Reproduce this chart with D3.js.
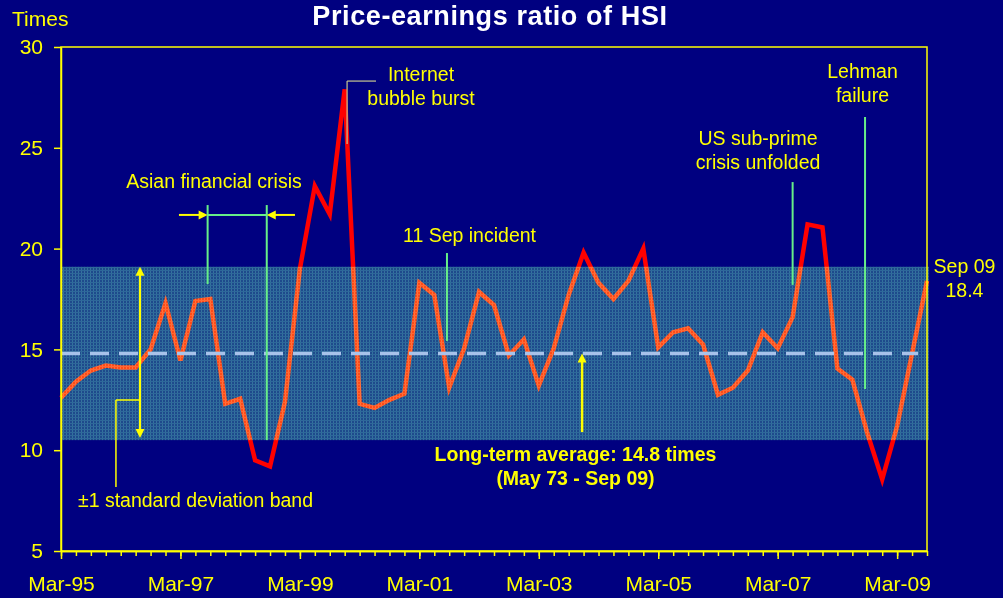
<!DOCTYPE html>
<html>
<head>
<meta charset="utf-8">
<script src="https://cdn.jsdelivr.net/npm/d3@7"></script>
<style>
  html, body { margin: 0; padding: 0; background: #000080; }
  svg { display: block; }
  text { font-family: "Liberation Sans", Arial, sans-serif; }
</style>
</head>
<body>
<script>
// ---------- data ----------
const quarters = [
  "Mar-95","Jun-95","Sep-95","Dec-95","Mar-96","Jun-96","Sep-96","Dec-96",
  "Mar-97","Jun-97","Sep-97","Dec-97","Mar-98","Jun-98","Sep-98","Dec-98",
  "Mar-99","Jun-99","Sep-99","Dec-99","Mar-00","Jun-00","Sep-00","Dec-00",
  "Mar-01","Jun-01","Sep-01","Dec-01","Mar-02","Jun-02","Sep-02","Dec-02",
  "Mar-03","Jun-03","Sep-03","Dec-03","Mar-04","Jun-04","Sep-04","Dec-04",
  "Mar-05","Jun-05","Sep-05","Dec-05","Mar-06","Jun-06","Sep-06","Dec-06",
  "Mar-07","Jun-07","Sep-07","Dec-07","Mar-08","Jun-08","Sep-08","Dec-08",
  "Mar-09","Jun-09","Sep-09"
];
const peRatio = [
  12.6, 13.4, 13.95, 14.2, 14.1, 14.1, 15.0, 17.3,
  14.45, 17.4, 17.5, 12.3, 12.55, 9.5, 9.2, 12.4,
  19.0, 23.1, 21.7, 27.9, 12.3, 12.1, 12.5, 12.8,
  18.3, 17.7, 13.1, 15.05, 17.85, 17.2, 14.7, 15.5,
  13.2, 15.05, 17.7, 19.8, 18.3, 17.5, 18.4, 20.0,
  15.1, 15.85, 16.05, 15.25, 12.75, 13.1, 13.95, 15.85,
  15.05, 16.6, 21.2, 21.05, 14.05, 13.5, 10.85, 8.55,
  11.2, 14.8, 18.4
];
const xTickLabels = ["Mar-95","Mar-97","Mar-99","Mar-01","Mar-03","Mar-05","Mar-07","Mar-09"];
const yTicks = [5, 10, 15, 20, 25, 30];
const longTermAverage = 14.8;
const bandLow = 10.5;
const bandHigh = 19.1;

// ---------- layout ----------
const W = 1003, H = 598;
const pL = 61, pR = 927, pT = 47, pB = 551;
const YELLOW = "#ffff00", GREEN = "#66ee88";

const svg = d3.select("body").append("svg").attr("width", W).attr("height", H);
svg.append("rect").attr("width", W).attr("height", H).attr("fill", "#000080");

const x = d3.scalePoint().domain(quarters).range([pL, pR]);
const xi = d3.scaleLinear().domain([0, quarters.length - 1]).range([pL, pR]); // fractional quarter positions
const y = d3.scaleLinear().domain([5, 30]).range([pB, pT]);

// band pattern
const defs = svg.append("defs");
const pat = defs.append("pattern").attr("id", "grid").attr("patternUnits", "userSpaceOnUse")
  .attr("width", 3).attr("height", 3);
pat.append("rect").attr("width", 3).attr("height", 3).attr("fill", "rgb(30,74,24)");
pat.append("rect").attr("width", 1).attr("height", 3).attr("fill", "rgb(52,115,58)");
pat.append("rect").attr("width", 3).attr("height", 1).attr("fill", "rgb(46,104,52)");

// line
const line = d3.line().x((d, i) => x(quarters[i])).y(d => y(d));
svg.append("path").datum(peRatio).attr("d", line)
  .attr("fill", "none").attr("stroke", "#ff0000").attr("stroke-width", 4.5);

// band (screen-blended on top of the line)
svg.append("rect")
  .attr("x", pL).attr("width", pR - pL + 2)
  .attr("y", y(bandHigh)).attr("height", y(bandLow) - y(bandHigh))
  .attr("fill", "url(#grid)").style("mix-blend-mode", "screen");

// average dashed line
svg.append("line")
  .attr("x1", pL).attr("x2", xi(57.4))
  .attr("y1", y(longTermAverage)).attr("y2", y(longTermAverage))
  .attr("stroke", "#a8c2ea").attr("stroke-width", 3.5).attr("stroke-dasharray", "19,10");

// frame
svg.append("rect").attr("x", pL).attr("y", pT).attr("width", pR - pL).attr("height", pB - pT)
  .attr("fill", "none").attr("stroke", YELLOW).attr("stroke-width", 1.5);

// axes
const minorAxis = d3.axisBottom(x).tickValues(quarters).tickSize(5).tickSizeOuter(0).tickFormat("");
const gMinor = svg.append("g").attr("transform", `translate(0,${pB})`).call(minorAxis);
const majorAxis = d3.axisBottom(x).tickValues(xTickLabels).tickSize(8).tickSizeOuter(0).tickPadding(17);
const gMajor = svg.append("g").attr("transform", `translate(0,${pB})`).call(majorAxis);
const yAxis = d3.axisLeft(y).tickValues(yTicks).tickSize(7).tickSizeOuter(0).tickPadding(11);
const gY = svg.append("g").attr("transform", `translate(${pL},0)`).call(yAxis);
[gMinor, gMajor, gY].forEach(g => {
  g.select(".domain").attr("stroke", YELLOW).attr("stroke-width", 1.5);
  g.selectAll(".tick line").attr("stroke", YELLOW).attr("stroke-width", 1.5);
  g.selectAll(".tick text").attr("fill", YELLOW).attr("font-size", 21)
    .attr("font-family", '"Liberation Sans", Arial, sans-serif');
});

// titles
svg.append("text").attr("x", 490).attr("y", 24.5).attr("text-anchor", "middle")
  .attr("fill", "#ffffff").attr("font-weight", "bold").attr("font-size", 27)
  .attr("letter-spacing", 0.6)
  .text("Price-earnings ratio of HSI");
svg.append("text").attr("x", 12).attr("y", 26).attr("fill", YELLOW).attr("font-size", 21).text("Times");

// helpers
function seg(x1, y1, x2, y2, color, w) {
  svg.append("line").attr("x1", x1).attr("y1", y1).attr("x2", x2).attr("y2", y2)
    .attr("stroke", color).attr("stroke-width", w || 2);
}
function head(tx, ty, dir, size) {
  const s = size || 8, h = s / 2;
  let pts;
  if (dir === "right") pts = [[tx, ty], [tx - s, ty - h], [tx - s, ty + h]];
  if (dir === "left") pts = [[tx, ty], [tx + s, ty - h], [tx + s, ty + h]];
  if (dir === "up") pts = [[tx, ty], [tx - h, ty + s], [tx + h, ty + s]];
  if (dir === "down") pts = [[tx, ty], [tx - h, ty - s], [tx + h, ty - s]];
  svg.append("path").attr("d", d3.line()(pts) + "Z").attr("fill", YELLOW);
}
function label(lines, cx, y0, opts) {
  const o = opts || {};
  const t = svg.append("text").attr("text-anchor", o.anchor || "middle").attr("fill", YELLOW)
    .attr("font-size", o.size || 19.5).attr("font-weight", o.bold ? "bold" : "normal");
  lines.forEach((s, i) => t.append("tspan").attr("x", cx).attr("y", y0 + i * (o.lh || 23.5)).text(s));
}

// Asian financial crisis
label(["Asian financial crisis"], 214, 188);
seg(xi(9.82), y(22.16), xi(9.82), y(18.24), GREEN, 2);
seg(xi(13.78), y(22.16), xi(13.78), y(bandLow), GREEN, 2);
seg(xi(9.82), y(21.67), xi(13.78), y(21.67), GREEN, 2);
seg(xi(7.9), y(21.67), xi(9.82) - 6, y(21.67), YELLOW, 2);
head(xi(9.82), y(21.67), "right", 9);
seg(xi(15.67), y(21.67), xi(13.78) + 6, y(21.67), YELLOW, 2);
head(xi(13.78), y(21.67), "left", 9);

// Internet bubble burst
label(["Internet", "bubble burst"], 421, 81);
seg(xi(19.16), y(28.31), xi(21.1), y(28.31), "#c8c890", 1.2);
seg(xi(19.16), y(28.31), xi(19.16), y(25.19), "#c8c890", 1.2);

// 11 Sep incident
label(["11 Sep incident"], 469.5, 242);
seg(xi(25.85), y(19.78), xi(25.85), y(15.42), GREEN, 2);

// US sub-prime
label(["US sub-prime", "crisis unfolded"], 758, 145);
seg(xi(49.0), y(23.3), xi(49.0), y(18.2), GREEN, 2);

// Lehman
label(["Lehman", "failure"], 862.5, 78);
seg(xi(53.85), y(26.53), xi(53.85), y(13.04), GREEN, 2);

// Sep 09 end label
label(["Sep 09", "18.4"], 964.5, 273);

// long-term average
label(["Long-term average: 14.8 times", "(May 73 - Sep 09)"], 575.5, 461, { bold: true, lh: 24 });
seg(xi(34.9), y(10.9), xi(34.9), y(longTermAverage) + 6, YELLOW, 2.5);
head(xi(34.9), y(longTermAverage), "up", 9);

// std band
seg(xi(5.29), y(bandHigh) + 6, xi(5.29), y(bandLow) - 6, YELLOW, 2);
head(xi(5.29), y(bandHigh), "up", 9);
head(xi(5.29), y(bandLow) - 2, "down", 9);
seg(xi(3.68), y(12.49), xi(5.29), y(12.49), YELLOW, 1.5);
seg(xi(3.68), y(12.49), xi(3.68), y(8.17), YELLOW, 1.5);
label(["\u00b11 standard deviation band"], 195.5, 507);
</script>
</body>
</html>
